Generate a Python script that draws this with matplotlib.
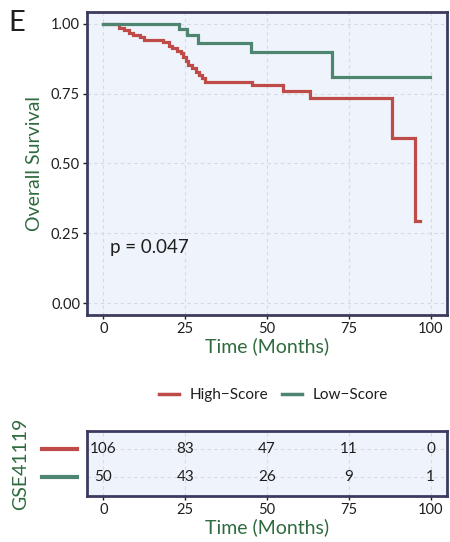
import matplotlib.pyplot as plt
from matplotlib.lines import Line2D
import numpy as np

plt.rcParams['font.family'] = ['Lato', 'DejaVu Sans']

# Kaplan-Meier steps (months, survival)
high_t = [0, 4.7, 6.2, 7.7, 9.2, 11.2, 12.5, 18.3, 20, 20.9, 22.6, 23.6, 24.4, 25.2,
          26, 27, 28.2, 29.2, 30.2, 31, 45.5, 55, 63, 88.2, 95.3, 96.9]
high_s = [1, 0.986, 0.977, 0.966, 0.96, 0.951, 0.943, 0.933, 0.92, 0.912, 0.902, 0.894,
          0.882, 0.866, 0.852, 0.84, 0.828, 0.816, 0.804, 0.792, 0.779, 0.76, 0.733,
          0.589, 0.294, 0.294]
low_t = [0, 23.1, 25.6, 28.8, 45, 70, 99.9]
low_s = [1, 0.98, 0.96, 0.932, 0.90, 0.81, 0.81]

risk_times = [0, 25, 50, 75, 100]
risk_high = [106, 83, 47, 11, 0]
risk_low = [50, 43, 26, 9, 1]
groups = ['High\u2212Score', 'Low\u2212Score']

red = '#BE4B48'
green = '#4E8570'
bg = '#EFF4FC'
spine = '#3C3B5E'
lab = '#2F6B3F'
txt = '#1E1E1E'

fig = plt.figure(figsize=(4.5, 5.42), dpi=100)
ax = fig.add_axes([0.1933, 0.4188, 0.8, 0.5591])
ax2 = fig.add_axes([0.1933, 0.0849, 0.8, 0.1199])


def style(a):
    a.set_facecolor(bg)
    for s in a.spines.values():
        s.set_color(spine)
        s.set_linewidth(2)
    a.grid(True, color='#D6D9E0', linestyle=(0, (3, 3)), linewidth=0.8)
    a.set_axisbelow(True)
    a.tick_params(colors=txt, labelcolor=txt, labelsize=10.5, length=3, width=1, pad=2)
    a.set_xlim(-5, 105)
    a.set_xticks(risk_times)


style(ax)
ax.step(high_t, high_s, where='post', color=red, lw=2.3, solid_joinstyle='miter')
ax.step(low_t, low_s, where='post', color=green, lw=2.3, solid_joinstyle='miter')
ax.set_ylim(-0.043, 1.042)
ax.set_yticks([0, 0.25, 0.5, 0.75, 1.0])
ax.set_yticklabels(['0.00', '0.25', '0.50', '0.75', '1.00'])
ax.set_ylabel('Overall Survival', color=lab, fontsize=14, labelpad=6)
ax.set_xlabel('Time (Months)', color=lab, fontsize=14, labelpad=1)
ax.text(2, 0.2, 'p = 0.047', fontsize=13.5, color=txt, ha='left', va='center')

# legend
handles = [Line2D([], [], color=red, lw=2.5), Line2D([], [], color=green, lw=2.5)]
fig.legend(handles, groups, loc='center', bbox_to_anchor=(0.607, 0.271), ncol=2,
           frameon=False, fontsize=11, handlelength=1.3, handletextpad=0.7,
           columnspacing=0.9, labelcolor=txt)

# risk table
style(ax2)
ax2.set_ylim(0.34, 2.66)
ax2.set_yticks([1, 2])
ax2.set_yticklabels(['', ''])
ax2.tick_params(axis='y', length=0)
for t, h, l in zip(risk_times, risk_high, risk_low):
    ax2.text(t, 2, str(h), ha='center', va='center', fontsize=11, color=txt)
    ax2.text(t, 1, str(l), ha='center', va='center', fontsize=11, color=txt)
trans = ax2.get_yaxis_transform()
for yv, c in [(2, red), (1, green)]:
    ax2.add_line(Line2D([-0.125, -0.028], [yv, yv], transform=trans, color=c,
                        lw=3, clip_on=False))
ax2.set_xlabel('Time (Months)', color=lab, fontsize=14, labelpad=1)
ax2.set_ylabel('GSE41119', color=lab, fontsize=14, labelpad=40)

fig.text(0.018, 0.982, 'E', fontsize=21, color='#231F20', ha='left', va='top')

fig.savefig('out.png', dpi=100)
